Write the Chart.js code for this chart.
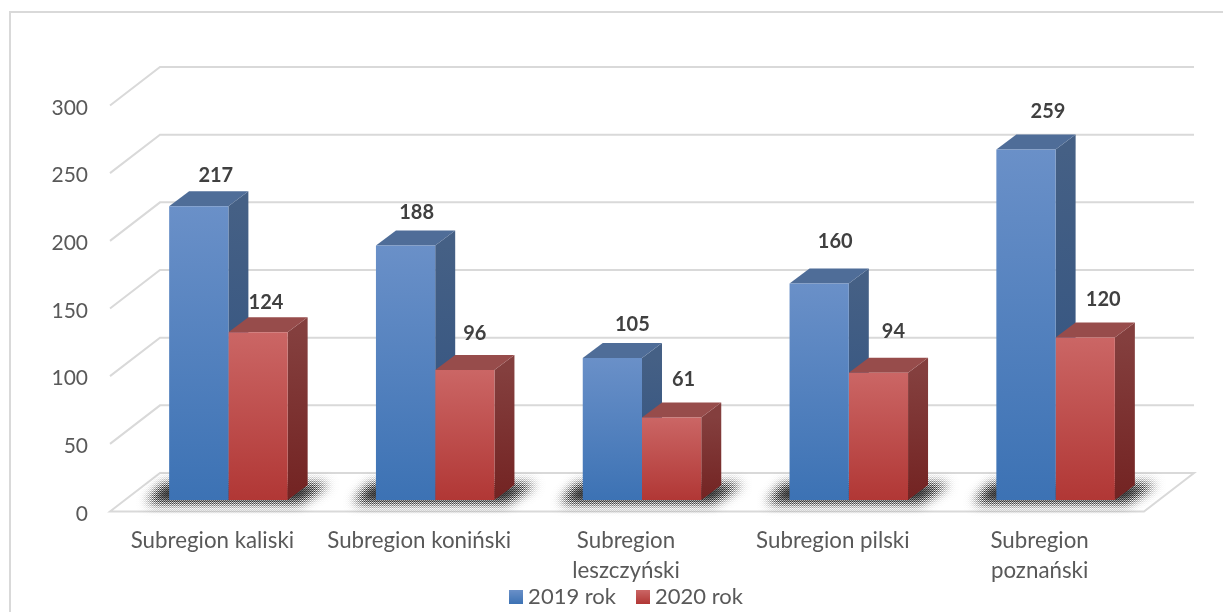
<!DOCTYPE html>
<html>
<head>
<meta charset="utf-8">
<title>Subregiony</title>
<style>
  html, body { margin: 0; background: #fff; }
  canvas { display: block; }
</style>
<script src="https://cdn.jsdelivr.net/npm/chart.js@4/dist/chart.umd.min.js"></script>
</head>
<body>
<canvas id="chart" width="1223" height="612"></canvas>
<script>
const categories = ['Subregion kaliski', 'Subregion koniński', ['Subregion', 'leszczyński'], 'Subregion pilski', ['Subregion', 'poznański']];
const series2019 = [217, 188, 105, 160, 259];
const series2020 = [124, 96, 61, 94, 120];
const seriesNames = ['2019 rok', '2020 rok'];
const maxValue = 300;
const tickStep = 50;

// reczne przesuniecia etykiet wartosci wzgledem srodka gornej krawedzi slupka
const labelNudge2019 = [[17, -31], [11, -33], [20, -33], [16, -42], [22, -38]];
const labelNudge2020 = [[8, -30], [10, -37], [12, -38], [15, -41], [18, -38]];

const FONT = 'Lato, Carlito, sans-serif';
const GRID = '#d9d9d9';
// glebokosc slupka i scian
const barDx = 20, barDy = 15;
const wallBack = { dx: 35, dy: 27 }, wallFront = { dx: -15, dy: 11.5 };
const GRAIN = [-1, 0.4, 1, -0.4];

const palette = [
  { frontTop: '#6a90c8', frontBottom: '#3c72b4', sideTop: '#456085', sideBottom: '#2f5180', top: '#4f6d98' },
  { frontTop: '#cb6665', frontBottom: '#b13735', sideTop: '#843f3e', sideBottom: '#732322', top: '#974c4b' }
];

function barGradient(context, i) {
  const chart = context.chart;
  if (!chart.chartArea || context.dataIndex === undefined) return palette[i].frontBottom;
  const value = chart.data.datasets[i].data[context.dataIndex];
  const g = chart.ctx.createLinearGradient(0, chart.scales.y.getPixelForValue(value), 0, chart.scales.y.getPixelForValue(0));
  g.addColorStop(0, palette[i].frontTop);
  g.addColorStop(1, palette[i].frontBottom);
  return g;
}

function legendSwatch(i) {
  const c = document.createElement('canvas');
  c.width = 14; c.height = 14;
  const x = c.getContext('2d');
  const g = x.createLinearGradient(0, 0, 0, 14);
  g.addColorStop(0, palette[i].frontTop);
  g.addColorStop(1, palette[i].frontBottom);
  x.fillStyle = g;
  x.fillRect(0, 0, 14, 14);
  return c;
}

function poly(ctx, pts) {
  ctx.beginPath();
  ctx.moveTo(pts[0][0], pts[0][1]);
  for (let i = 1; i < pts.length; i++) ctx.lineTo(pts[i][0], pts[i][1]);
  ctx.closePath();
  ctx.fill();
}

// cien na podlodze: rozmyty wielokat z drobnym ziarnem na brzegach
function drawFloorShadow(chart) {
  const m0 = chart.getDatasetMeta(0), m1 = chart.getDatasetMeta(1);
  const off = document.createElement('canvas');
  off.width = chart.width; off.height = chart.height;
  const o = off.getContext('2d');
  o.filter = 'blur(6px)';
  o.fillStyle = '#000';
  m0.data.forEach((b, i) => {
    const left = b.x - b.width / 2, right = m1.data[i].x + m1.data[i].width / 2, base = b.base;
    poly(o, [[left - 22, base + 3], [right + 12, base + 3], [right + 41, base - 16], [left - 6, base - 16]]);
  });
  o.filter = 'none';
  const img = o.getImageData(0, 0, off.width, off.height);
  const px = img.data;
  for (let y = 0; y < off.height; y++) {
    for (let x = 0; x < off.width; x++) {
      const k = (y * off.width + x) * 4 + 3;
      const a = px[k];
      if (!a) continue;
      px[k - 3] = px[k - 2] = px[k - 1] = 40;
      px[k] = Math.max(0, Math.min(255, a + GRAIN[(y % 2) * 2 + (x % 2)] * Math.min(a, 255 - a) * 0.9));
    }
  }
  o.putImageData(img, 0, 0);
  chart.ctx.drawImage(off, 0, 0);
}

const scene3d = {
  id: 'scene3d',
  afterLayout(chart) {
    // legenda wchodzi na etykiety osi, jak w oryginale
    chart.legend.top = 561;
    chart.legend.left += 29;
    chart.legend.right += 29;
  },
  beforeDraw(chart) {
    const ctx = chart.ctx;
    ctx.save();
    ctx.strokeStyle = GRID;
    ctx.lineWidth = 2;
    ctx.beginPath();
    ctx.moveTo(10, 612);
    ctx.lineTo(10, 12);
    ctx.lineTo(1223, 12);
    ctx.stroke();
    ctx.restore();
  },
  beforeDatasetsDraw(chart) {
    const ctx = chart.ctx, y = chart.scales.y, area = chart.chartArea;
    ctx.save();
    // siatka: tylna sciana i lewa sciana
    ctx.strokeStyle = GRID;
    ctx.lineWidth = 2;
    y.ticks.forEach(t => {
      const py = y.getPixelForValue(t.value);
      ctx.beginPath();
      ctx.moveTo(area.left + wallFront.dx, py + wallFront.dy);
      ctx.lineTo(area.left + wallBack.dx, py - wallBack.dy);
      ctx.lineTo(area.right + wallBack.dx, py - wallBack.dy);
      if (t.value === 0) {
        ctx.lineTo(area.right + wallFront.dx, py + wallFront.dy);
        ctx.closePath();
      }
      ctx.stroke();
    });
    drawFloorShadow(chart);
    // boki i wierzchy slupkow, przednie sciany rysuje juz Chart.js
    [0, 1].forEach(d => {
      const colors = palette[d];
      chart.getDatasetMeta(d).data.forEach(b => {
        const l = b.x - b.width / 2, r = b.x + b.width / 2;
        const g = ctx.createLinearGradient(0, b.y, 0, b.base);
        g.addColorStop(0, colors.sideTop);
        g.addColorStop(1, colors.sideBottom);
        ctx.fillStyle = g;
        poly(ctx, [[r, b.y], [r + barDx, b.y - barDy], [r + barDx, b.base - barDy], [r, b.base]]);
        ctx.fillStyle = colors.top;
        poly(ctx, [[l, b.y], [l + barDx, b.y - barDy], [r + barDx, b.y - barDy], [r, b.y]]);
      });
    });
    ctx.restore();
  },
  afterDatasetsDraw(chart) {
    const ctx = chart.ctx;
    const nudges = [labelNudge2019, labelNudge2020];
    ctx.save();
    ctx.font = 'bold 20px ' + FONT;
    ctx.fillStyle = '#404040';
    ctx.textAlign = 'center';
    ctx.textBaseline = 'middle';
    chart.data.datasets.forEach((ds, d) => {
      chart.getDatasetMeta(d).data.forEach((b, i) => {
        ctx.fillText(ds.data[i], b.x + nudges[d][i][0], b.y + nudges[d][i][1]);
      });
    });
    ctx.restore();
  }
};

new Chart(document.getElementById('chart'), {
  type: 'bar',
  data: {
    labels: categories,
    datasets: [
      { label: seriesNames[0], data: series2019, backgroundColor: c => barGradient(c, 0) },
      { label: seriesNames[1], data: series2020, backgroundColor: c => barGradient(c, 1) }
    ]
  },
  options: {
    responsive: false,
    animation: false,
    datasets: { bar: { categoryPercentage: 0.573, barPercentage: 1 } },
    layout: { padding: { left: 40, right: 64, top: 94, bottom: -35 } },
    plugins: {
      tooltip: { enabled: false },
      legend: {
        position: 'bottom',
        labels: {
          font: { family: FONT, size: 22 },
          color: '#595959',
          usePointStyle: true,
          pointStyleWidth: 3,
          padding: 25,
          generateLabels: chart => chart.data.datasets.map((ds, i) => ({
            text: ds.label,
            datasetIndex: i,
            fontColor: '#595959',
            pointStyle: legendSwatch(i)
          }))
        }
      }
    },
    scales: {
      x: {
        afterFit: s => { s.height = 90; },
        grid: { display: false, drawTicks: false },
        border: { display: false },
        ticks: {
          font: { family: FONT, size: 22.3, lineHeight: '30px' },
          color: '#595959',
          padding: 26,
          labelOffset: -16,
          autoSkip: false,
          maxRotation: 0
        }
      },
      y: {
        min: 0,
        max: maxValue,
        afterFit: s => { s.width = 85; },
        grid: { display: false, drawTicks: false },
        border: { display: false },
        ticks: {
          stepSize: tickStep,
          font: { family: FONT, size: 21 },
          color: '#595959',
          padding: 37,
          labelOffset: 14
        }
      }
    }
  },
  plugins: [scene3d]
});
</script>
</body>
</html>
